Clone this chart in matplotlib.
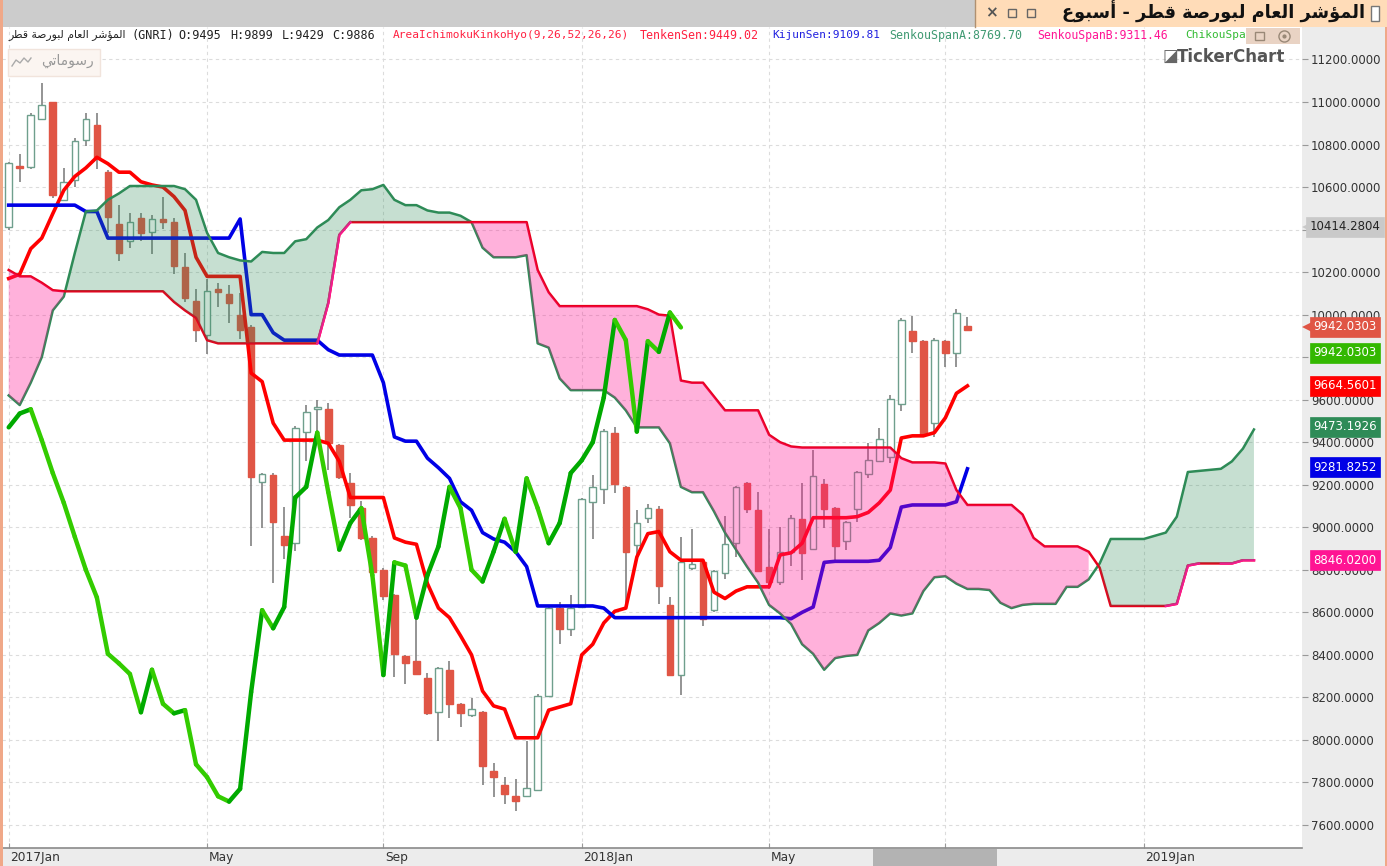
import numpy as np
import matplotlib
matplotlib.use('Agg')
import matplotlib.pyplot as plt
from matplotlib.patches import Rectangle
from matplotlib.transforms import blended_transform_factory, ScaledTranslation

# weekly candles, one row per week: open, high, low, close
opens = [10413, 10700, 10695, 10920, 11000, 10540, 10635, 10820, 10890, 10670, 10425, 10345, 10455, 10390, 10450,
         10435, 10225, 10065, 9905, 10120, 10095, 10000, 9940, 9215, 9245, 8960, 8925, 9450, 9555, 9555,
         9385, 9210, 9090, 8950, 8800, 8680, 8395, 8370, 8290, 8130, 8330, 8170, 8115, 8130, 7855,
         7790, 7735, 7735, 7765, 8205, 8620, 8520, 8625, 9120, 9180, 9445, 9190, 8915, 9045, 9085,
         8635, 8305, 8810, 8835, 8610, 8785, 8925, 9210, 9080, 8815, 8745, 8885, 9040, 8900, 9205,
         9090, 8935, 9085, 9250, 9310, 9330, 9580, 9925, 9875, 9490, 9875, 9820, 9945]
highs = [10720, 10755, 10950, 11090, 11000, 10690, 10830, 10950, 10950, 10680, 10515, 10480, 10480, 10470, 10555,
         10455, 10290, 10120, 10170, 10150, 10140, 10100, 9950, 9255, 9255, 9095, 9475, 9575, 9600, 9585,
         9390, 9255, 9125, 8960, 8810, 8685, 8400, 8570, 8315, 8345, 8370, 8175, 8195, 8135, 7890,
         7825, 7815, 7995, 8215, 8630, 8650, 8680, 9140, 9245, 9460, 9470, 9195, 9080, 9110, 9100,
         8670, 8955, 8990, 8840, 8800, 9055, 9195, 9215, 9165, 8990, 9000, 9060, 9210, 9365, 9225,
         9095, 9030, 9265, 9395, 9465, 9620, 9985, 9995, 9880, 9890, 9880, 10025, 9990]
lows = [10400, 10625, 10685, 10915, 10548, 10535, 10600, 10795, 10685, 10385, 10250, 10315, 10345, 10285, 10405,
        10190, 10060, 9870, 9815, 10035, 9960, 9885, 8910, 8995, 8740, 8850, 8890, 9310, 9450, 9270,
        9225, 9045, 8940, 8785, 8660, 8295, 8265, 8305, 8115, 7995, 8105, 8060, 8110, 7790, 7730,
        7700, 7665, 7730, 7765, 8205, 8450, 8490, 8620, 8945, 9110, 9160, 8620, 8865, 9020, 8640,
        8305, 8210, 8800, 8535, 8600, 8755, 8860, 9065, 8790, 8710, 8730, 8820, 8750, 8900, 8995,
        8845, 8895, 9025, 9230, 9305, 9300, 9545, 9820, 9440, 9425, 9755, 9755, 9925]
closes = [10715, 10690, 10940, 10985, 10563, 10625, 10815, 10920, 10735, 10460, 10290, 10435, 10385, 10450, 10435,
          10230, 10080, 9930, 10110, 10105, 10055, 9930, 9235, 9250, 9025, 8915, 9465, 9540, 9565, 9395,
          9235, 9105, 8950, 8790, 8675, 8405, 8360, 8310, 8125, 8340, 8170, 8125, 8145, 7875, 7825,
          7745, 7715, 7775, 8205, 8620, 8520, 8620, 9135, 9190, 9455, 9205, 8885, 9020, 9090, 8725,
          8305, 8835, 8825, 8570, 8795, 8920, 9190, 9085, 8795, 8745, 8885, 9045, 8880, 9240, 9085,
          8910, 9025, 9260, 9315, 9415, 9605, 9975, 9875, 9440, 9880, 9820, 10010, 9930]

tenkan = [10170, 10190, 10310, 10360, 10475, 10585, 10650, 10690, 10740, 10710, 10670, 10670, 10625, 10610, 10600,
          10555, 10490, 10270, 10180, 10180, 10180, 10180, 9725, 9685, 9490, 9410, 9410, 9410, 9410, 9395,
          9310, 9140, 9140, 9140, 9140, 8950, 8930, 8920, 8735, 8620, 8575, 8490, 8400, 8230, 8160,
          8145, 8010, 8010, 8010, 8140, 8155, 8170, 8400, 8450, 8550, 8605, 8620, 8860, 8970, 8980,
          8885, 8845, 8845, 8845, 8695, 8665, 8700, 8720, 8720, 8720, 8870, 8880, 8925, 9045, 9045,
          9045, 9045, 9050, 9070, 9115, 9175, 9420, 9430, 9430, 9445, 9515, 9630, 9665]
kijun = [10515, 10515, 10515, 10515, 10515, 10515, 10515, 10485, 10485, 10360, 10360, 10360, 10360, 10360, 10360,
         10360, 10360, 10360, 10360, 10360, 10360, 10450, 10000, 10000, 9915, 9880, 9880, 9880, 9880, 9835,
         9810, 9810, 9810, 9810, 9680, 9425, 9405, 9405, 9325, 9280, 9230, 9120, 9080, 8975, 8945,
         8930, 8885, 8815, 8630, 8630, 8630, 8630, 8630, 8630, 8620, 8575, 8575, 8575, 8575, 8575,
         8575, 8575, 8575, 8575, 8575, 8575, 8575, 8575, 8575, 8575, 8575, 8570, 8600, 8625, 8835,
         8840, 8840, 8840, 8840, 8845, 8905, 9095, 9105, 9105, 9105, 9105, 9120, 9275]
chikou = [9470, 9535, 9555, 9410, 9255, 9115, 8955, 8800, 8670, 8405, 8360, 8310, 8130, 8330, 8170,
          8125, 8140, 7885, 7825, 7735, 7710, 7770, 8225, 8610, 8525, 8625, 9140, 9190, 9445, 9165,
          8895, 9020, 9090, 8775, 8305, 8835, 8820, 8575, 8775, 8910, 9190, 9090, 8800, 8745, 8885,
          9040, 8885, 9230, 9090, 8925, 9020, 9255, 9315, 9400, 9610, 9975, 9880, 9450, 9875, 9825,
          10010, 9940]
span_a = [9620, 9575, 9680, 9800, 10020, 10085, 10290, 10485, 10490, 10540, 10570, 10605, 10605, 10605, 10605,
          10605, 10590, 10540, 10385, 10290, 10270, 10255, 10250, 10295, 10290, 10290, 10345, 10355, 10410, 10445,
          10505, 10540, 10585, 10590, 10610, 10540, 10515, 10515, 10490, 10480, 10480, 10465, 10435, 10315, 10270,
          10270, 10270, 10280, 9865, 9845, 9700, 9645, 9645, 9645, 9645, 9610, 9550, 9470, 9470, 9470,
          9395, 9190, 9165, 9165, 9075, 8975, 8895, 8815, 8740, 8635, 8595, 8545, 8450, 8405, 8330,
          8385, 8395, 8400, 8515, 8550, 8595, 8585, 8595, 8700, 8765, 8770, 8735, 8710, 8710, 8705,
          8645, 8620, 8635, 8640, 8640, 8640, 8720, 8720, 8755, 8830, 8945, 8945, 8945, 8945, 8960,
          8975, 9050, 9260, 9265, 9270, 9275, 9310, 9370, 9460]
span_b = [10210, 10180, 10180, 10150, 10115, 10110, 10110, 10110, 10110, 10110, 10110, 10110, 10110, 10110, 10110,
          10060, 10020, 9985, 9880, 9865, 9865, 9865, 9865, 9865, 9865, 9865, 9865, 9865, 9865, 10055,
          10375, 10435, 10435, 10435, 10435, 10435, 10435, 10435, 10435, 10435, 10435, 10435, 10435, 10435, 10435,
          10435, 10435, 10435, 10210, 10105, 10040, 10040, 10040, 10040, 10040, 10040, 10040, 10040, 10025, 10000,
          9995, 9690, 9680, 9680, 9615, 9550, 9550, 9550, 9550, 9435, 9400, 9380, 9375, 9375, 9375,
          9375, 9375, 9375, 9375, 9375, 9375, 9325, 9305, 9305, 9305, 9300, 9175, 9105, 9105, 9105,
          9105, 9105, 9060, 8950, 8910, 8910, 8910, 8910, 8885, 8810, 8630, 8630, 8630, 8630, 8630,
          8630, 8640, 8820, 8830, 8830, 8830, 8830, 8845, 8845]

month_weeks = [0, 18, 34, 52, 69, 85, 103]
month_labels = ['2017Jan', 'May', 'Sep', '2018Jan', 'May', '', '2019Jan']
price_ticks = np.arange(7600, 11201, 200)
hidden_ticks = [9800, 10400]  # fully behind a price tag in the original
tag_values = [10414.2804, 9942.0303, 9942.0303, 9664.5601, 9473.1926, 9281.8252, 8846.0200]
tag_shift = [0, 0, -26, 0, 0, 0, 0]
tag_colors = ['#c9c9c9', '#e05545', '#33b800', '#ff0000', '#2e8b57', '#0000e6', '#ff1493']
tag_text = ['#222222', 'white', 'white', 'white', 'white', 'white', 'white']
ohlc_labels = ['(GNRI)', 'O:9495', 'H:9899', 'L:9429', 'C:9886']
legend_txt = ['AreaIchimokuKinkoHyo(9,26,52,26,26)', 'TenkenSen:9449.02', 'KijunSen:9109.81',
              'SenkouSpanA:8769.70', 'SenkouSpanB:9311.46', 'ChikouSpa']

title_ar = 'المؤشر العام لبورصة قطر - أسبوع'
symbol_ar = 'المؤشر العام لبورصة قطر'
button_ar = 'رسوماتي'

# matplotlib has no arabic shaping, so map letters to presentation forms
FORMS = {'ا': (0xFE8D, 0xFE8E), 'أ': (0xFE83, 0xFE84), 'ؤ': (0xFE85, 0xFE86), 'ر': (0xFEAD, 0xFEAE),
         'و': (0xFEED, 0xFEEE), 'ة': (0xFE93, 0xFE94), 'ب': (0xFE8F, 0xFE90, 0xFE91, 0xFE92),
         'ت': (0xFE95, 0xFE96, 0xFE97, 0xFE98), 'س': (0xFEB1, 0xFEB2, 0xFEB3, 0xFEB4),
         'ش': (0xFEB5, 0xFEB6, 0xFEB7, 0xFEB8), 'ص': (0xFEB9, 0xFEBA, 0xFEBB, 0xFEBC),
         'ط': (0xFEC1, 0xFEC2, 0xFEC3, 0xFEC4), 'ع': (0xFEC9, 0xFECA, 0xFECB, 0xFECC),
         'ق': (0xFED5, 0xFED6, 0xFED7, 0xFED8), 'ل': (0xFEDD, 0xFEDE, 0xFEDF, 0xFEE0),
         'م': (0xFEE1, 0xFEE2, 0xFEE3, 0xFEE4), 'ي': (0xFEF1, 0xFEF2, 0xFEF3, 0xFEF4)}


def shape(s):
    out = []
    for i, c in enumerate(s):
        f = FORMS.get(c)
        if f is None:
            out.append(c)
            continue
        prev = FORMS.get(s[i - 1]) if i > 0 else None
        nxt = FORMS.get(s[i + 1]) if i + 1 < len(s) else None
        before = prev is not None and len(prev) == 4
        after = nxt is not None and len(f) == 4
        if len(f) == 2:
            out.append(chr(f[1] if before else f[0]))
        else:
            out.append(chr(f[3] if before and after else f[1] if before else f[2] if after else f[0]))
    return ''.join(out)[::-1]


W, H = 1387, 866
fig = plt.figure(figsize=(W / 100, H / 100), dpi=100, facecolor='#ececec')

# window chrome behind the chart
back = fig.add_axes([0, 0, 1, 1], zorder=0)
back.set_xlim(0, W)
back.set_ylim(H, 0)
back.axis('off')
back.add_patch(Rectangle((0, 0), W, 27, color='#cccccc', lw=0))

ax = fig.add_axes([2 / W, (H - 848) / H, 1300 / W, 821 / H], zorder=1, facecolor='white')
ax.set_xlim(-0.608, 117.36)
ax.set_ylim(7491.7, 11352.8)

weeks = np.arange(len(opens))
ax.set_xticks(month_weeks, month_labels, ha='left', fontsize=8.8, color='#333333')
ax.set_yticks(price_ticks, ['' if p in hidden_ticks else '%.4f' % p for p in price_ticks],
              fontsize=8.5, color='#333333')
ax.yaxis.tick_right()
ax.tick_params(axis='y', length=4.3, width=0.8, color='#999999', pad=2)
ax.tick_params(axis='x', direction='in', length=3.5, width=0.8, color='#999999', pad=2)
for lab in ax.get_xticklabels():
    lab.set_transform(lab.get_transform() + ScaledTranslation(1.5 / 100, 0, fig.dpi_scale_trans))
ax.grid(True, linestyle=(0, (3, 3)), linewidth=0.8, color='#dcdcdc')
ax.set_axisbelow(True)
for side in ['left', 'right', 'top']:
    ax.spines[side].set_visible(False)
ax.spines['bottom'].set_color('#8a8a8a')
ax.spines['bottom'].set_linewidth(1.2)

# candles
ax.vlines(weeks, lows, highs, color='#777777', linewidth=1.1, zorder=2)
for i in weeks:
    up = closes[i] >= opens[i]
    ax.bar(i, abs(closes[i] - opens[i]), bottom=min(opens[i], closes[i]), width=0.6,
           facecolor='white' if up else '#e05545', edgecolor='#6f9f8d' if up else '#e05545',
           linewidth=1.0, zorder=3)

ax.plot(weeks, tenkan, color='#ff0000', linewidth=2.6, zorder=4)
ax.plot(weeks, kijun, color='#0000e6', linewidth=2.6, zorder=4)

# cloud, the fill goes over candles and lines like in the original
cloud = np.arange(len(span_a))
a = np.array(span_a)
b = np.array(span_b)
ax.plot(cloud, span_a, color='#2e8b57', linewidth=1.8, zorder=5)
ax.plot(cloud, span_b, color='#e8001c', linewidth=1.8, zorder=5)
for i0, i1 in [(28, 31), (105, 108), (110, 113)]:
    ax.plot(cloud[i0:i1 + 1], b[i0:i1 + 1], color='#ff1493', linewidth=1.8, zorder=5.1)
ax.fill_between(cloud, a, b, where=a >= b, interpolate=True, color='#2e8b57', alpha=0.27, lw=0, zorder=6)
ax.fill_between(cloud, a, b, where=a <= b, color='#ff1493', alpha=0.33, lw=0, zorder=6)

# lagging line, falling parts are lighter
for i in range(len(chikou) - 1):
    col = '#33cc00' if chikou[i + 1] < chikou[i] else '#00aa00'
    ax.plot([i, i + 1], chikou[i:i + 2], color=col, linewidth=3.2, zorder=7, solid_capstyle='round')

tr = blended_transform_factory(ax.transAxes, ax.transData)
for n, (val, dy, col, tc) in enumerate(zip(tag_values, tag_shift, tag_colors, tag_text)):
    ax.annotate('%.4f' % val, xy=(1, val), xycoords=tr, xytext=(43, dy), textcoords='offset pixels',
                ha='center', va='center', fontsize=8.5, color=tc, zorder=9,
                bbox=dict(boxstyle='square,pad=0.3', facecolor=col, edgecolor=col, linewidth=0.5))
    if n < 2:  # first two tags point at the axis
        ax.plot([1.0038], [val], marker='<', ms=7, color=col, mew=0, transform=tr, clip_on=False, zorder=9)

# overlay in pixel coords for tab, legend line and buttons
over = fig.add_axes([0, 0, 1, 1], zorder=3)
over.set_xlim(0, W)
over.set_ylim(H, 0)
over.axis('off')
over.patch.set_alpha(0)
over.add_patch(Rectangle((0, 0), 2.5, H, color='#f0a888', lw=0))
over.add_patch(Rectangle((W - 2, 0), 2, H, color='#f0a888', lw=0))
over.add_patch(Rectangle((975, 0), W - 975, 27, color='#ffdcb8', lw=0))
over.plot([975, 975], [0, 27], color='#b09070', lw=1)
over.add_patch(Rectangle((873, 849), 124, 17, color='#b3b3b3', lw=0))
over.add_patch(Rectangle((1371, 6), 8, 15, facecolor='white', edgecolor='#777777', lw=1))
over.text(1365, 12, shape(title_ar), ha='right', va='center', fontsize=12.8, fontweight='bold',
          family='DejaVu Sans', color='#111111')
over.text(991, 13, '×', ha='center', va='center', fontsize=11, fontweight='bold', color='#555555')
for x0 in [1008, 1027]:
    over.add_patch(Rectangle((x0, 9), 8, 8, facecolor='none', edgecolor='#666666', lw=1))

over.text(126, 35.5, shape(symbol_ar), ha='right', va='center', fontsize=7.8, color='#222222')
for x0, t in zip([131, 178, 230, 282, 332], ohlc_labels):
    over.text(x0, 35.5, t, ha='left', va='center', fontsize=8.5, color='#222222', family='DejaVu Sans Mono')
legend_x = [393, 640, 772, 889, 1037, 1185]
legend_col = ['#ff2040', '#ff2040', '#2020e0', '#3f9a72', '#ff1493', '#33bb33']
legend_size = [8, 8.4, 8, 8.4, 8.3, 8]
for x0, t, c, s in zip(legend_x, legend_txt, legend_col, legend_size):
    over.text(x0, 35.5, t, ha='left', va='center', fontsize=s, family='DejaVu Sans Mono', color=c)

# small window buttons over the legend
over.add_patch(Rectangle((1246, 28), 54, 16, color='#e9d3c4', lw=0))
over.add_patch(Rectangle((1255, 32), 9, 8, facecolor='none', edgecolor='#998877', lw=1))
over.plot([1284], [36], marker='o', ms=8, mfc='none', mec='#998877', mew=1)
over.plot([1284], [36], marker='o', ms=2, color='#998877')

over.text(1163, 57, '◪', ha='left', va='center', fontsize=12, color='#666666')
over.text(1177, 57.5, 'TickerChart', ha='left', va='center', fontsize=12, fontweight='bold',
          color='#555555')

# my drawings button
over.add_patch(Rectangle((8, 49), 92, 27, facecolor='#fbf5f1', edgecolor='#f1e4dc', lw=1))
over.plot([12, 16, 20, 24, 28, 31], [66, 60, 63, 58, 62, 58], color='#aaaaaa', lw=1)
over.text(94, 61, shape(button_ar), ha='right', va='center', fontsize=10, color='#999999')

fig.savefig('out.png', dpi=100, facecolor=fig.get_facecolor())
